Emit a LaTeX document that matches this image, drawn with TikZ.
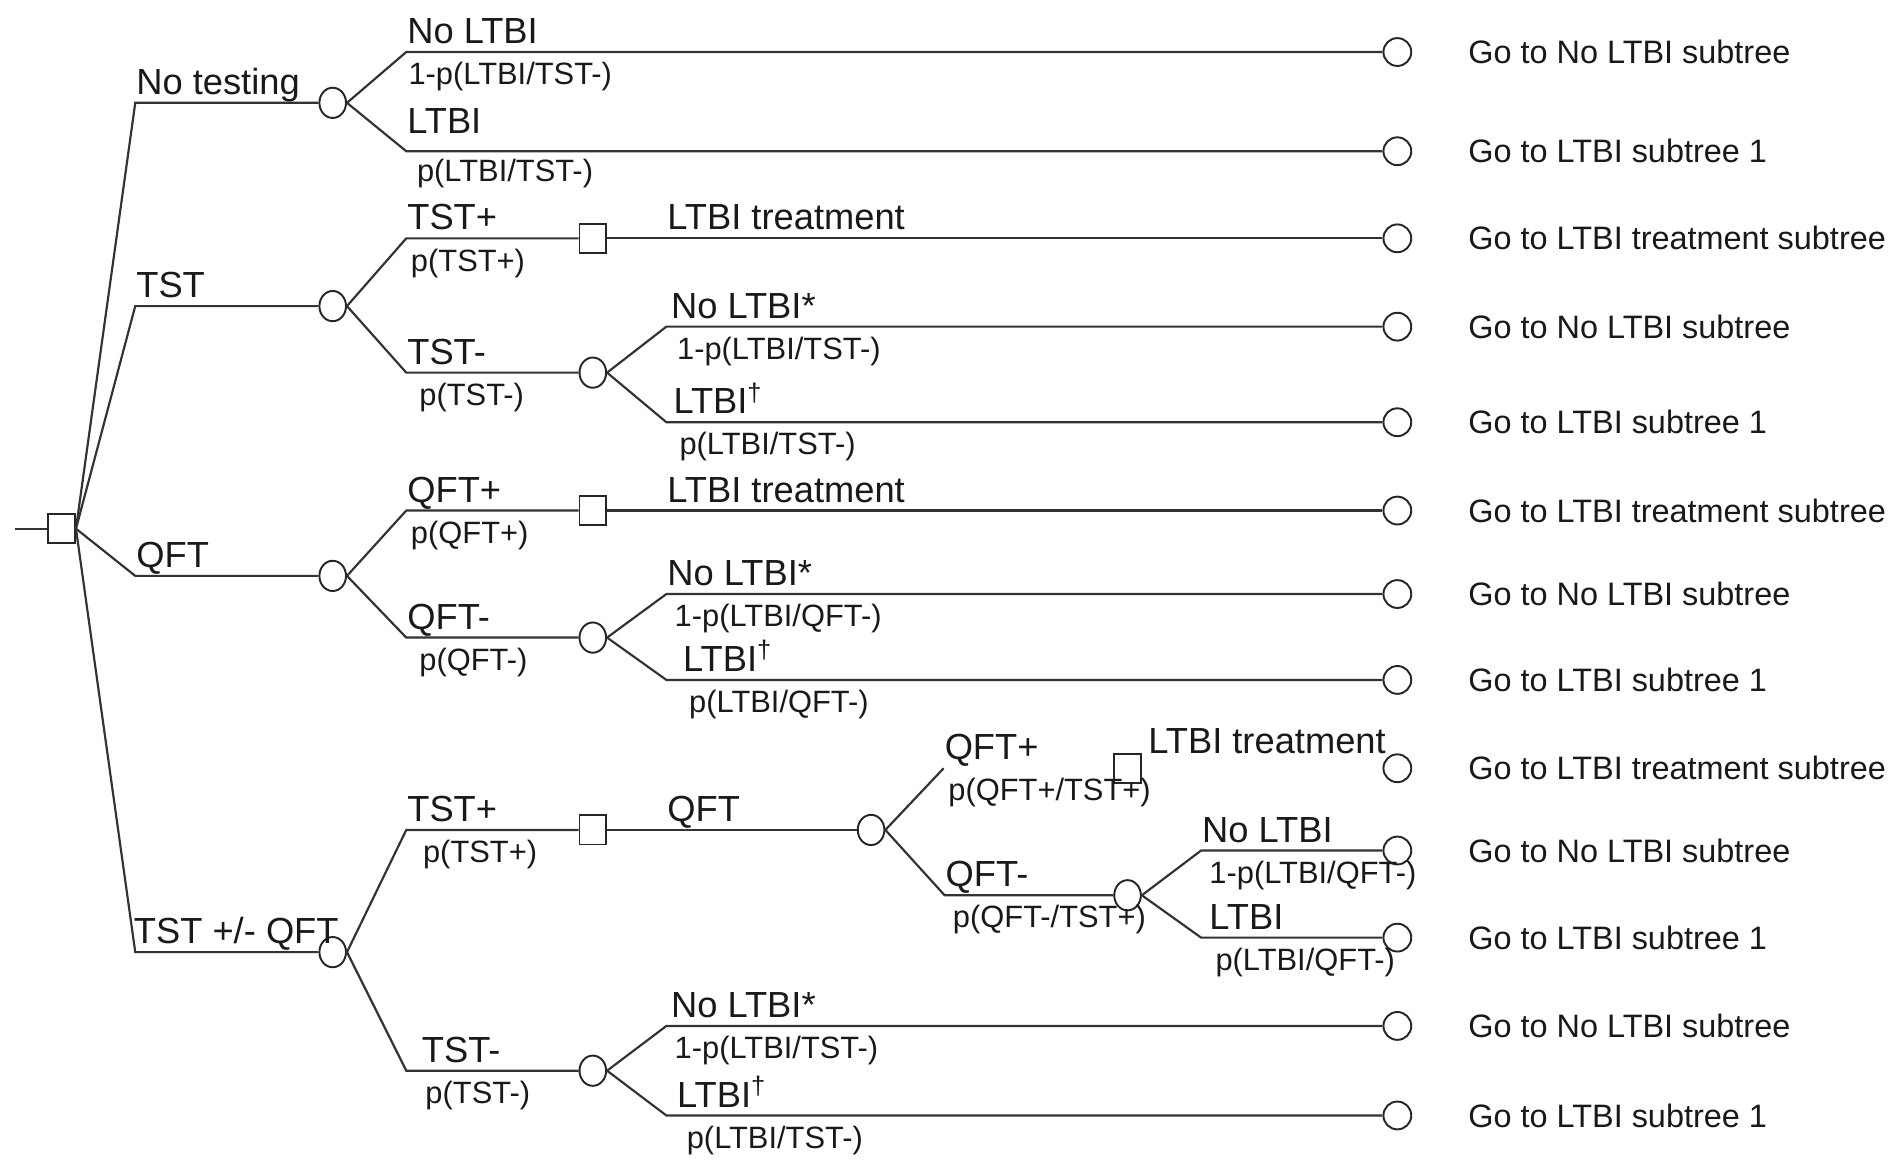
\documentclass[tikz,border=0pt]{standalone}
\usepackage{fontspec}
\setmainfont{Liberation Sans}
\usetikzlibrary{shapes.geometric,positioning}

\begin{document}
\begin{tikzpicture}[x=0.5pt,y=-0.5pt,
		branch/.style={draw=black!80,line width=0.9pt},
		elbow/.style={to path={-- ([xshift=24.5pt]\tikztostart |- \tikztotarget) \tikztonodes -- (\tikztotarget)}},
		chance/.style={draw=black!85,ellipse,line width=0.8pt,minimum width=11pt,minimum height=12.5pt,inner sep=0pt},
		decision/.style={draw=black!85,rectangle,line width=0.8pt,minimum width=11pt,minimum height=12pt,inner sep=0pt},
		terminal/.style={draw=black!85,circle,line width=0.8pt,minimum size=11.5pt,inner sep=0pt},
		lbl/.style={anchor=base west,inner sep=0pt,text=black!90,font=\fontsize{15}{15}\selectfont},
		up/.style={lbl,pos=1,yshift=3.5pt},
		down/.style={pos=1,anchor=base west,inner sep=0pt,yshift=-13.5pt,xshift=1.5pt,text=black!90,font=\fontsize{12.75}{13}\selectfont},
		goto/.style={anchor=west,inner sep=0pt,text=black!90,font=\fontsize{13.4}{14}\selectfont},
		node distance=23pt]
			\useasboundingbox (0,0) rectangle (1568,959);
			\coordinate (entry) at (12,437);
			\node[decision] (root) at (51,437) {};
			\node[chance] (c_none) at (275,85) {};
			\node[chance] (c_tst) at (275,253) {};
			\node[chance] (c_qft) at (275,476) {};
			\node[chance] (c_seq) at (275,787) {};
			\node[decision] (d_tstp) at (490,197) {};
			\node[chance] (c_tstn) at (490,308) {};
			\node[decision] (d_qftp) at (490,422) {};
			\node[chance] (c_qftn) at (490,527) {};
			\node[decision] (d_seqp) at (490,686) {};
			\node[chance] (c_seqq) at (720,686) {};
			\coordinate (seq_qp) at (780,635);
			\node[decision] (d_seqqp) at (932,635) {};
			\node[chance] (c_seqqn) at (932,740) {};
			\node[chance] (c_seqn) at (490,885) {};
			\foreach \n/\y in {1/43,2/125,3/197,4/270,5/349,6/422,7/491,8/562,9/635,10/703,11/775,12/848,13/922}
				\node[terminal] (t\n) at (1155,\y) {};
			\foreach \n/\txt in {1/No LTBI subtree,2/LTBI subtree 1,3/LTBI treatment subtree,4/No LTBI subtree,5/LTBI subtree 1,6/LTBI treatment subtree,7/No LTBI subtree,8/LTBI subtree 1,9/LTBI treatment subtree,10/No LTBI subtree,11/LTBI subtree 1,12/No LTBI subtree,13/LTBI subtree 1}
				\node[goto,right=of t\n] (g\n) {Go to \txt};
			\node[lbl] (lt_seq) at ([xshift=2.5pt,yshift=6pt]d_seqqp.east) {LTBI treatment};
			\path[branch]
				(entry) edge (root)
				(root.east) edge[elbow] node[up] {No testing} (c_none)
				(root.east) edge[elbow] node[up] {TST} (c_tst)
				(root.east) edge[elbow] node[up] {QFT} (c_qft)
				(root.east) edge[elbow] node[up,xshift=-1pt] {TST +/- QFT} (c_seq)
				(c_none.east) edge[elbow] node[up] {No LTBI} node[down,xshift=-1pt] {1-p(LTBI/TST-)} (t1)
				(c_none.east) edge[elbow] node[up,yshift=4pt] {LTBI} node[down,xshift=2.5pt,yshift=1pt] {p(LTBI/TST-)} (t2)
				(c_tst.east) edge[elbow] node[up] {TST+} node[down] {p(TST+)} (d_tstp)
				(d_tstp.east) edge[elbow] node[up] {LTBI treatment} (t3)
				(c_tst.east) edge[elbow] node[up] {TST-} node[down,xshift=3.5pt] {p(TST-)} (c_tstn)
				(c_tstn.east) edge[elbow] node[up,xshift=1.5pt] {No LTBI*} node[down,xshift=2.5pt] {1-p(LTBI/TST-)} (t4)
				(c_tstn.east) edge[elbow] node[up,xshift=2.5pt] {LTBI\textsuperscript{†}} node[down,xshift=3.5pt] {p(LTBI/TST-)} (t5)
				(c_qft.east) edge[elbow] node[up] {QFT+} node[down] {p(QFT+)} (d_qftp)
				(d_qftp.east) edge[elbow] node[up] {LTBI treatment} (t6)
				(c_qft.east) edge[elbow] node[up] {QFT-} node[down,xshift=3.5pt] {p(QFT-)} (c_qftn)
				(c_qftn.east) edge[elbow] node[up] {No LTBI*} node[down,xshift=1.5pt] {1-p(LTBI/QFT-)} (t7)
				(c_qftn.east) edge[elbow] node[up,xshift=6.5pt] {LTBI\textsuperscript{†}} node[down,xshift=7.5pt] {p(LTBI/QFT-)} (t8)
				(c_seq.east) edge[elbow] node[up] {TST+} node[down,xshift=5pt] {p(TST+)} (d_seqp)
				(d_seqp.east) edge[elbow] node[up] {QFT} (c_seqq)
				(c_seqq.east) edge node[up] {QFT+} node[down] {p(QFT+/TST+)} (seq_qp)
				(c_seqq.east) edge[elbow] node[up] {QFT-} node[down,xshift=1.5pt] {p(QFT-/TST+)} (c_seqqn)
				(c_seqqn.east) edge[elbow] node[up] {No LTBI} node[down,xshift=1.5pt] {1-p(LTBI/QFT-)} (t10)
				(c_seqqn.east) edge[elbow] node[up,xshift=3pt] {LTBI} node[down,xshift=4pt] {p(LTBI/QFT-)} (t11)
				(c_seq.east) edge[elbow] node[up,xshift=6pt] {TST-} node[down,xshift=6pt] {p(TST-)} (c_seqn)
				(c_seqn.east) edge[elbow] node[up,xshift=1.5pt] {No LTBI*} node[down,xshift=1.5pt] {1-p(LTBI/TST-)} (t12)
				(c_seqn.east) edge[elbow] node[up,xshift=4pt] {LTBI\textsuperscript{†}} node[down,xshift=6.5pt] {p(LTBI/TST-)} (t13);
		\end{tikzpicture}
\end{document}
